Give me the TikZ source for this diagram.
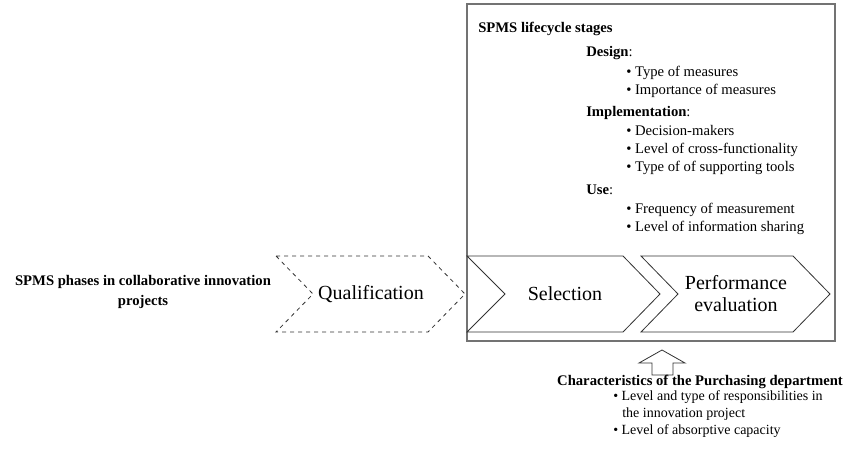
\documentclass[tikz,border=0pt]{standalone}
\usepackage{fontspec}
\setmainfont{Liberation Serif}
\usetikzlibrary{positioning}

\begin{document}
\begin{tikzpicture}[x=0.75pt,y=-0.75pt,
    chevron/.style={draw=black!80, line width=0.6pt},
    phase/.style={font=\fontsize{15}{16.5}\selectfont, align=center},
    head/.style={font=\fontsize{11}{13}\selectfont\bfseries, inner sep=0pt},
    item/.style={font=\fontsize{11}{13}\selectfont, anchor=base west, inner sep=0pt},
    smallitem/.style={font=\fontsize{10.5}{12}\selectfont, anchor=base west, inner sep=0pt}]
\useasboundingbox (0,0) rectangle (846,454);

% Lifecycle box
\draw[black!55, line width=0.9pt] (467,4) rectangle (835,341);
\node[head, anchor=base west] (lifecycle) at (478,32) {SPMS lifecycle stages};

\node[item] (design) at (586,56) {\textbf{Design}:};
\node[item] (d1) at (626,76) {• Type of measures};
\node[item] (d2) at (626,94) {• Importance of measures};

\node[item] (impl) at (586,116) {\textbf{Implementation}:};
\node[item] (i1) at (626,135) {• Decision-makers};
\node[item] (i2) at (626,153) {• Level of cross-functionality};
\node[item] (i3) at (626,171) {• Type of of supporting tools};

\node[item] (use) at (586,194) {\textbf{Use}:};
\node[item] (u1) at (626,213) {• Frequency of measurement};
\node[item] (u2) at (626,231) {• Level of information sharing};

% Phases
\node[head, align=center, font=\fontsize{11}{15}\selectfont\bfseries] (phases) at (143,292)
    {SPMS phases in collaborative innovation\\projects};

\draw[chevron, dashed] (276,256) -- (428,256) -- (465,294) -- (428,332) -- (276,332) -- (313,294) -- cycle;
\node[phase] (qual) at (371,294) {Qualification};

\draw[chevron] (467,256) -- (623,256) -- (660,294) -- (623,332) -- (467,332) -- (505,294) -- cycle;
\node[phase] (sel) at (565,294) {Selection};

\draw[chevron] (641,256) -- (793,256) -- (830,294) -- (793,332) -- (641,332) -- (678,294) -- cycle;
\node[phase] (perf) at (736,294) {Performance\\evaluation};

% Purchasing department
\draw[chevron] (662,350) -- (685,363) -- (673,363) -- (673,375) -- (652,375) -- (652,363) -- (639,363) -- cycle;
\node[head, anchor=base] (purch) at (700,385) {Characteristics of the Purchasing department};
\node[smallitem] (p1) at (613,400) {• Level and type of responsibilities in};
\node[smallitem] (p2) at (622,417) {the innovation project};
\node[smallitem] (p3) at (613,434) {• Level of absorptive capacity};

\end{tikzpicture}
\end{document}
